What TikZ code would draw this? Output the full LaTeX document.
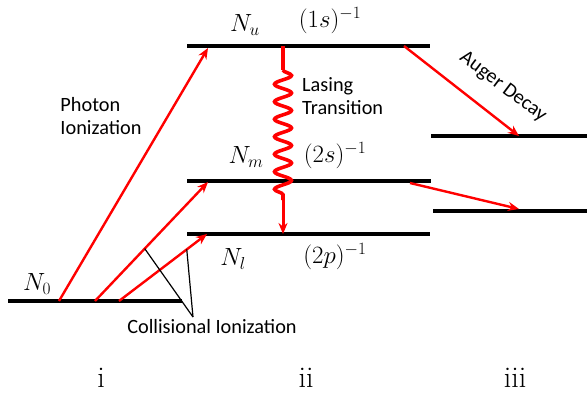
\documentclass[tikz,border=0pt]{standalone}
\usepackage{fontspec}
\newfontfamily\labelfont{Carlito}
\usepackage{xcolor}
\definecolor{LaserRed}{RGB}{255,0,0}
\usetikzlibrary{arrows.meta,calc,decorations.pathmorphing}

\begin{document}
\begin{tikzpicture}[
  x=1pt, y=-1pt,
  level/.style={line width=4pt, black},
  transfer/.style={
    -{Stealth[length=11pt,width=9pt]},
    line width=2.4pt, color=LaserRed},
  lasing/.style={
    line width=3.6pt, color=LaserRed,
    decorate, decoration={snake,
      segment length=17.5pt, amplitude=8.5pt}},
  pointer/.style={line width=1.2pt, black},
  statelabel/.style={font=\fontsize{26}{30}\selectfont, inner sep=0pt},
  textlabel/.style={font=\labelfont\fontsize{20.3}{23.5}\selectfont,
    inner sep=0pt},
  stagelabel/.style={font=\rmfamily\fontsize{30}{33}\selectfont,
    inner sep=0pt}
]
\useasboundingbox (0,0) rectangle (587,396);

% energy levels
\coordinate (n0a) at (8,301);   \coordinate (n0b) at (182,301);
\coordinate (nua) at (187,46);  \coordinate (nub) at (430,46);
\coordinate (nma) at (187,181); \coordinate (nmb) at (431,181);
\coordinate (nla) at (187,234); \coordinate (nlb) at (430,234);
\coordinate (ha) at (431,136);  \coordinate (hb) at (587,136);
\coordinate (la) at (433,211);  \coordinate (lb) at (587,211);

\draw[level] (n0a) -- (n0b);
\draw[level] (nua) -- (nub);
\draw[level] (nma) -- (nmb);
\draw[level] (nla) -- (nlb);
\draw[level] (ha) -- (hb);
\draw[level] (la) -- (lb);

% state labels
\node[statelabel] (n0) at (37,284) {$N_0$};
\node[statelabel] (nu) at (245,25) {$N_u$};
\node[statelabel] (su) at (330,21) {$(1s)^{-1}$};
\node[statelabel] (nm) at (246,157) {$N_m$};
\node[statelabel] (sm) at (335,156) {$(2s)^{-1}$};
\node[statelabel] (nl) at (233,259) {$N_l$};
\node[statelabel] (sl) at (335,257) {$(2p)^{-1}$};

% ionization arrows
\coordinate (p1s) at (59,301);  \coordinate (p1e) at (208,48);
\coordinate (p2s) at (95,301);  \coordinate (p2e) at (208,182);
\coordinate (p3s) at (119,301); \coordinate (p3e) at (207,234);
\draw[transfer] (p1s) -- (p1e);
\draw[transfer] (p2s) -- (p2e);
\draw[transfer] (p3s) -- (p3e);

\node[textlabel, align=left] (photon) at (101,116)
  {Photon\\Ionization};

% lasing transition
\coordinate (ls) at (283,46);
\coordinate (lw1) at (283,70);
\coordinate (lw2) at (283,200);
\coordinate (le) at (283,234);
\draw[line width=3.6pt, LaserRed] (ls) -- (lw1);
\draw[lasing] (lw1) -- (lw2);
\draw[transfer, line width=3pt] (lw2) -- (le);
\node[textlabel, align=left, anchor=west] (lasetxt) at (302,96)
  {Lasing\\Transition};

% Auger decay
\coordinate (a1s) at (404,46);  \coordinate (a1e) at (519,136);
\coordinate (a2s) at (410,183); \coordinate (a2e) at (519,209);
\draw[transfer] (a1s) -- (a1e);
\draw[transfer] (a2s) -- (a2e);
\node[textlabel, rotate=-37] (auger) at (503,87) {Auger Decay};

% collisional ionization
\node[textlabel] (colltxt) at (212,327) {Collisional Ionization};
\coordinate (ctip) at (193,317);
\draw[pointer] ($(p2s)!0.44!(p2e)$) -- (ctip);
\draw[pointer] ($(p3s)!0.77!(p3e)$) -- (ctip);

% stages
\node[stagelabel] (st1) at (101,378) {i};
\node[stagelabel] (st2) at (306,378) {ii};
\node[stagelabel] (st3) at (515,378) {iii};
\end{tikzpicture}
\end{document}
